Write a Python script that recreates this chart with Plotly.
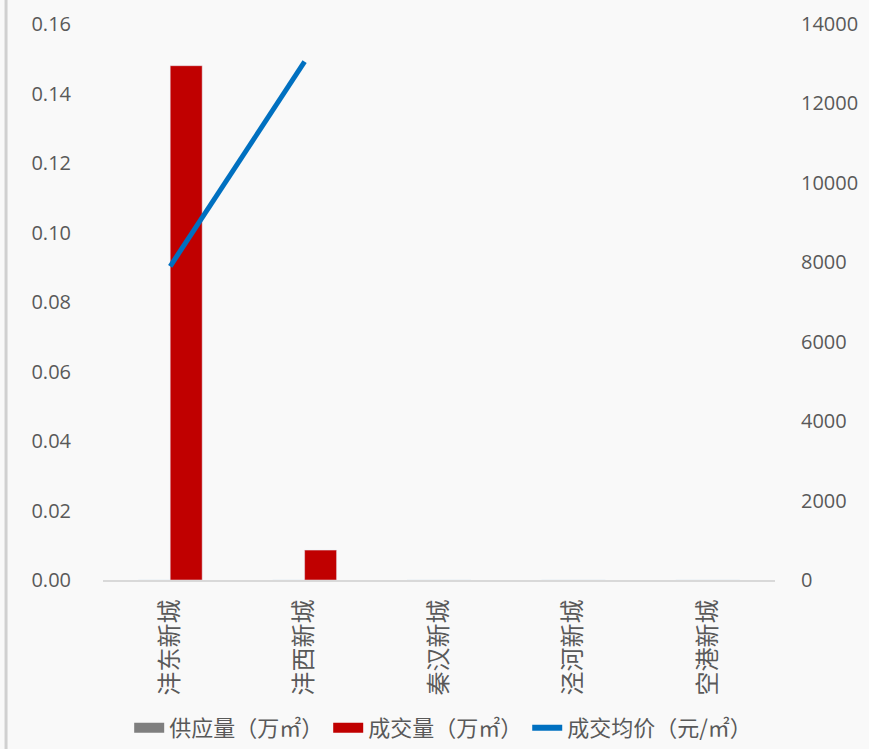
import plotly.graph_objects as go

categories = ["沣东新城", "沣西新城", "秦汉新城", "泾河新城", "空港新城"]
supply = [0, 0, 0, 0, 0]
deal = [0.148, 0.0086, 0, 0, 0]
price = [7900, 13050, None, None, None]
left_ticks = [0, 0.02, 0.04, 0.06, 0.08, 0.10, 0.12, 0.14, 0.16]
right_ticks = [0, 2000, 4000, 6000, 8000, 10000, 12000, 14000]
names = ["供应量（万㎡）", "成交量（万㎡）", "成交均价（元/㎡）"]

FONT = "Open Sans, Noto Sans CJK SC, sans-serif"
CJK = "Noto Sans CJK SC, sans-serif"
TXT = "#595959"
GRAY, RED, BLUE = "#7f7f7f", "#c00000", "#0070c0"

fig = go.Figure()
fig.add_trace(go.Bar(x=categories, y=supply, name=names[0], marker_color=GRAY, showlegend=False))
fig.add_trace(go.Bar(x=categories, y=deal, name=names[1], marker_color=RED, showlegend=False))
fig.add_trace(go.Scatter(x=categories, y=price, name=names[2], yaxis="y2",
                         mode="lines", line=dict(color=BLUE, width=5), showlegend=False))
# legend-only entries with wide swatches
fig.add_trace(go.Scatter(x=[None], y=[None], name=names[0], mode="lines",
                         line=dict(color=GRAY, width=15)))
fig.add_trace(go.Scatter(x=[None], y=[None], name=names[1], mode="lines",
                         line=dict(color=RED, width=15)))
fig.add_trace(go.Scatter(x=[None], y=[None], name=names[2], mode="lines", yaxis="y2",
                         line=dict(color=BLUE, width=6)))

fig.update_layout(
    width=869, height=749,
    margin=dict(l=103, r=94, t=24, b=169, autoexpand=False),
    paper_bgcolor="#f9f9f9", plot_bgcolor="#f9f9f9",
    font=dict(family=FONT, color=TXT, size=20),
    barmode="group", bargap=0.524, bargroupgap=0,
    showlegend=True,
    legend=dict(orientation="h", xref="container", yref="container",
                x=0.51, xanchor="center", y=0.028, yanchor="middle",
                font=dict(size=22, color=TXT, family=CJK), traceorder="normal"),
    xaxis=dict(showgrid=False, tickangle=-90, showline=True, linecolor="#d9d9d9", linewidth=2,
               ticks="", automargin=False, ticklabelstandoff=8,
               tickfont=dict(size=24, color=TXT, family=CJK)),
    yaxis=dict(range=[0, 0.16], tickvals=left_ticks, tickformat=".2f", showgrid=False,
               zeroline=False, showline=False, ticks="", ticklabelstandoff=31, automargin=False,
               tickfont=dict(size=20, color=TXT)),
    yaxis2=dict(range=[0, 14000], tickvals=right_ticks, tickformat="d", overlaying="y", side="right",
                showgrid=False, zeroline=False, showline=False, ticks="", ticklabelstandoff=25,
                automargin=False, tickfont=dict(size=20, color=TXT)),
    shapes=[dict(type="line", xref="paper", yref="paper", x0=-0.1443, x1=-0.1443, y0=-0.32, y1=1.06,
                 line=dict(color="#d0d0d0", width=3))],
)

fig.write_html("out.html")
